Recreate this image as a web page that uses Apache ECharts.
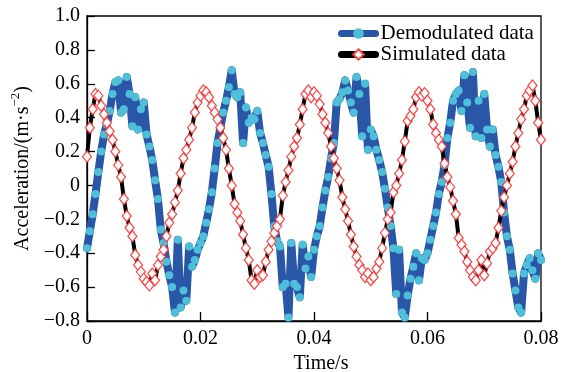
<!DOCTYPE html>
<html><head><meta charset="utf-8">
<script src="https://cdn.jsdelivr.net/npm/echarts@6/dist/echarts.min.js"></script>
<style>html,body{margin:0;padding:0;background:#fff}#c{width:576px;height:372px}</style>
</head><body><div id="c"></div>
<script>
// sampling interval of the recorded signals (s)
const dt = 0.0005;

const seriesNames = ['Demodulated data', 'Simulated data'];

const demodulated = [
 -0.37,-0.27,-0.17,-0.05,0.08,0.20,0.30,0.36,0.44,0.54,
 0.61,0.62,0.43,0.45,0.64,0.54,0.35,0.52,0.33,0.45,
 0.49,0.30,0.23,0.15,0.03,-0.08,-0.26,-0.34,-0.45,-0.53,
 -0.60,-0.75,-0.32,-0.72,-0.62,-0.68,-0.36,-0.48,-0.44,-0.38,
 -0.34,-0.30,-0.22,-0.14,-0.04,0.10,0.25,0.34,0.43,0.50,
 0.58,0.68,0.54,0.52,0.55,0.25,0.46,0.37,0.40,0.39,
 0.44,0.31,0.25,0.18,0.11,-0.05,-0.24,-0.33,-0.36,-0.60,
 -0.58,-0.78,-0.34,-0.58,-0.60,-0.66,-0.35,-0.49,-0.42,-0.54,
 -0.38,-0.30,-0.24,-0.13,-0.03,0.05,0.16,0.25,0.49,0.51,
 0.55,0.62,0.56,0.49,0.43,0.64,0.54,0.29,0.60,0.21,
 0.33,0.29,0.21,0.15,0.08,-0.02,-0.13,-0.24,-0.37,-0.64,
 -0.38,-0.75,-0.78,-0.65,-0.55,-0.48,-0.40,-0.56,-0.43,-0.44,
 -0.40,-0.32,-0.24,-0.16,-0.05,0.02,0.12,0.28,0.37,0.50,
 0.54,0.56,0.44,0.65,0.49,0.34,0.67,0.29,0.50,0.28,
 0.54,0.33,0.23,0.33,0.18,0.11,0.02,-0.16,-0.30,-0.38,
 -0.52,-0.62,-0.72,-0.75,-0.52,-0.47,-0.43,-0.50,-0.55,-0.40,
 -0.44
];

const simulated = [
 0.17,0.34,0.45,0.54,0.53,0.47,0.42,0.37,0.32,0.27,
 0.20,0.12,0.05,-0.08,-0.18,-0.25,-0.30,-0.41,-0.47,-0.51,
 -0.55,-0.57,-0.59,-0.52,-0.56,-0.47,-0.42,-0.38,-0.30,-0.22,
 -0.17,-0.10,-0.03,0.07,0.16,0.21,0.27,0.34,0.43,0.49,
 0.53,0.56,0.55,0.52,0.47,0.43,0.39,0.34,0.28,0.21,
 0.10,0.00,-0.11,-0.16,-0.21,-0.29,-0.37,-0.44,-0.56,-0.58,
 -0.50,-0.54,-0.53,-0.45,-0.38,-0.33,-0.28,-0.24,-0.20,-0.06,
 0.02,0.09,0.17,0.23,0.28,0.36,0.45,0.54,0.56,0.52,
 0.55,0.53,0.48,0.42,0.37,0.31,0.23,0.16,0.10,0.03,
 -0.07,-0.14,-0.21,-0.29,-0.36,-0.42,-0.47,-0.50,-0.54,-0.52,
 -0.56,-0.54,-0.49,-0.45,-0.37,-0.28,-0.20,-0.16,-0.04,0.00,
 0.07,0.15,0.26,0.38,0.41,0.45,0.52,0.55,0.53,0.545,
 0.50,0.45,0.36,0.31,0.27,0.23,0.13,0.05,-0.01,-0.09,
 -0.17,-0.31,-0.35,-0.39,-0.45,-0.50,-0.54,-0.56,-0.50,-0.44,
 -0.53,-0.46,-0.39,-0.37,-0.34,-0.25,-0.15,-0.07,0.00,0.07,
 0.14,0.23,0.31,0.39,0.45,0.53,0.56,0.59,0.50,0.37,
 0.27
];

const xAxisRange = [0, 0.08, 0.02];
const yAxisRange = [-0.8, 1.0, 0.2];

const font = "'Liberation Serif','Times New Roman',serif";
const pairs = arr => arr.map((v, i) => [i * dt, v]);

const chart = echarts.init(document.getElementById('c'), null, {renderer: 'canvas'});
chart.setOption({
  animation: false,
  backgroundColor: '#fff',
  textStyle: {fontFamily: font, color: '#000'},
  grid: {left: 87, right: 35, top: 16, bottom: 51, containLabel: false, outerBoundsMode: 'none',
         show: true, borderColor: '#000', borderWidth: 1.3, backgroundColor: 'transparent'},
  legend: {
    orient: 'vertical', left: 333, top: 18, itemWidth: 34, itemHeight: 13, itemGap: 0,
    textStyle: {fontFamily: font, fontSize: 21, color: '#000'},
    data: [
      {name: seriesNames[0], lineStyle: {width: 7, cap: 'round', color: '#2a56a8'}, itemStyle: {color: '#4dbfd9'}},
      {name: seriesNames[1], lineStyle: {width: 7, cap: 'round', color: '#000'}}
    ]
  },
  xAxis: {
    type: 'value', min: xAxisRange[0], max: xAxisRange[1], interval: xAxisRange[2],
    name: 'Time/s', nameLocation: 'middle', nameGap: 30,
    nameTextStyle: {fontFamily: font, fontSize: 20, color: '#000', padding: [0, 0, 0, 14]},
    axisLine: {onZero: false, lineStyle: {color: '#000', width: 1.3}},
    axisTick: {inside: true, length: 9, lineStyle: {color: '#000', width: 1.3}},
    axisLabel: {fontFamily: font, fontSize: 20, color: '#000', margin: 8,
      formatter: v => v === 0 ? '0' : v.toFixed(2)},
    splitLine: {show: false}
  },
  yAxis: {
    type: 'value', min: yAxisRange[0], max: yAxisRange[1], interval: yAxisRange[2],
    name: '{a|Acceleration/(m·s}{s|\u22122}{a|)}', nameLocation: 'middle', nameGap: 52,
    nameTextStyle: {fontFamily: font, fontSize: 20, color: '#000',
      rich: {a: {fontFamily: font, fontSize: 20, lineHeight: 24, verticalAlign: 'bottom'},
             s: {fontFamily: font, fontSize: 13, lineHeight: 24, verticalAlign: 'top'}}},
    axisLine: {onZero: false, lineStyle: {color: '#000', width: 1.3}},
    axisTick: {inside: true, length: 8, lineStyle: {color: '#000', width: 1.3}},
    axisLabel: {fontFamily: font, fontSize: 20, color: '#000', margin: 7,
      formatter: v => Math.abs(v) < 1e-9 ? '0' : (v < 0 ? '\u2212' : '') + Math.abs(v).toFixed(1)},
    splitLine: {show: false}
  },
  series: [
    {
      name: seriesNames[0], type: 'line', data: pairs(demodulated), showAllSymbol: true,
      symbol: 'circle', symbolSize: 8,
      lineStyle: {color: '#2a56a8', width: 8, cap: 'round', join: 'round'},
      itemStyle: {color: '#4dbfd9', borderWidth: 0}
    },
    {
      name: seriesNames[1], type: 'line', data: pairs(simulated), showAllSymbol: true,
      symbol: 'diamond', symbolSize: [9, 11],
      lineStyle: {color: '#000', width: 4, cap: 'round', join: 'round'},
      itemStyle: {color: '#fff', borderColor: '#ff4040', borderWidth: 1.2}
    }
  ]
});
</script></body></html>
